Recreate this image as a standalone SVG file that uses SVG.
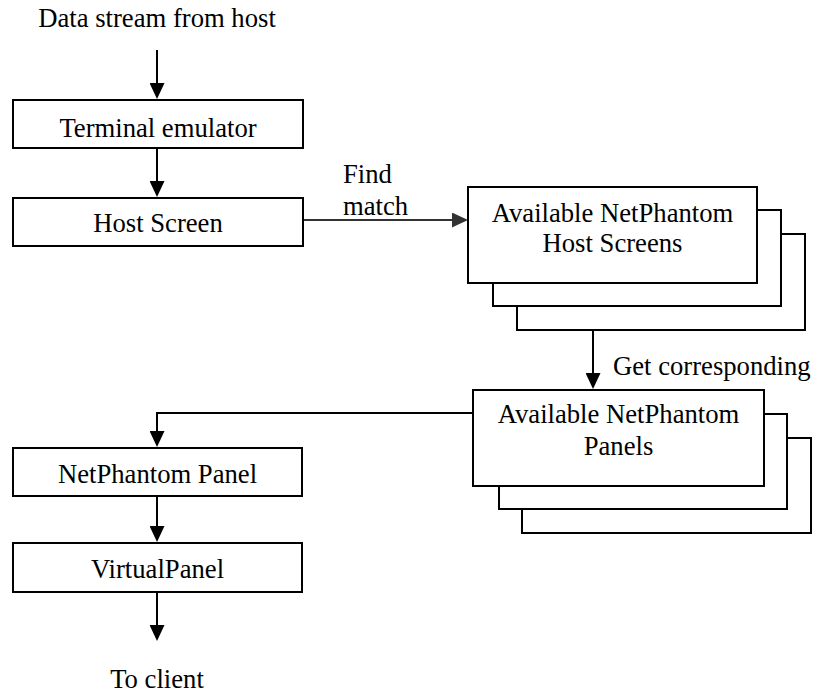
<svg xmlns="http://www.w3.org/2000/svg" width="813" height="693" viewBox="0 0 813 693">
<style>
  .box { fill: #ffffff; stroke: #000000; stroke-width: 2; }
  .lbl { font-family: "Liberation Serif", "Times New Roman", serif; font-size: 26.67px; fill: #000000; }
  .mid { text-anchor: middle; }
  .conn { fill: none; stroke: #000000; stroke-width: 2; marker-end: url(#arrow); }
  .conn-gray { fill: none; stroke: #333333; stroke-width: 2; marker-end: url(#arrow-gray); }
</style>
<defs>
  <marker id="arrow" markerUnits="userSpaceOnUse" markerWidth="16" markerHeight="15" refX="8" refY="7.5" orient="auto" viewBox="0 0 16 15">
    <path d="M0,0 L16,7.5 L0,15 z" fill="#000000"/>
  </marker>
  <marker id="arrow-gray" markerUnits="userSpaceOnUse" markerWidth="16" markerHeight="15" refX="8" refY="7.5" orient="auto" viewBox="0 0 16 15">
    <path d="M0,0 L16,7.5 L0,15 z" fill="#333333"/>
  </marker>
</defs>
<rect width="813" height="693" fill="#ffffff"/>

<g id="connectors">
  <path class="conn" d="M157,50 V91"/>
  <path class="conn" d="M157,148 V189"/>
  <path class="conn-gray" d="M303,220 H460"/>
  <path class="conn" d="M593,293 V381"/>
  <path class="conn" d="M473,413 H157 V439"/>
  <path class="conn" d="M157,496 V534"/>
  <path class="conn" d="M157,592 V633"/>
</g>

<g id="source-label">
  <text class="lbl mid" x="157" y="27">Data stream from host</text>
</g>

<g id="terminal-emulator">
  <rect class="box" x="13" y="100" width="290" height="48"/>
  <text class="lbl mid" x="158" y="137">Terminal emulator</text>
</g>

<g id="host-screen">
  <rect class="box" x="13" y="198" width="290" height="48"/>
  <text class="lbl mid" x="158" y="232">Host Screen</text>
</g>

<g id="find-match-label">
  <text class="lbl" x="343" y="183">Find</text>
  <text class="lbl" x="343" y="215">match</text>
</g>

<g id="available-host-screens">
  <rect class="box" x="517" y="234" width="288" height="96"/>
  <rect class="box" x="493" y="210" width="288" height="96"/>
  <rect class="box" x="468" y="187" width="289" height="96"/>
  <text class="lbl mid" x="612.5" y="222">Available NetPhantom</text>
  <text class="lbl mid" x="612.5" y="252">Host Screens</text>
</g>

<g id="get-corresponding-label">
  <text class="lbl" x="613" y="375">Get corresponding</text>
</g>

<g id="available-panels">
  <rect class="box" x="522" y="438" width="289" height="95"/>
  <rect class="box" x="499" y="414" width="288" height="95"/>
  <rect class="box" x="473" y="390" width="291" height="96"/>
  <text class="lbl mid" x="618.5" y="423">Available NetPhantom</text>
  <text class="lbl mid" x="618.5" y="455">Panels</text>
</g>

<g id="netphantom-panel">
  <rect class="box" x="13" y="448" width="289" height="48"/>
  <text class="lbl mid" x="157.5" y="483">NetPhantom Panel</text>
</g>

<g id="virtual-panel">
  <rect class="box" x="13" y="543" width="289" height="49"/>
  <text class="lbl mid" x="157.5" y="578">VirtualPanel</text>
</g>

<g id="client-label">
  <text class="lbl mid" x="157" y="688">To client</text>
</g>
</svg>
